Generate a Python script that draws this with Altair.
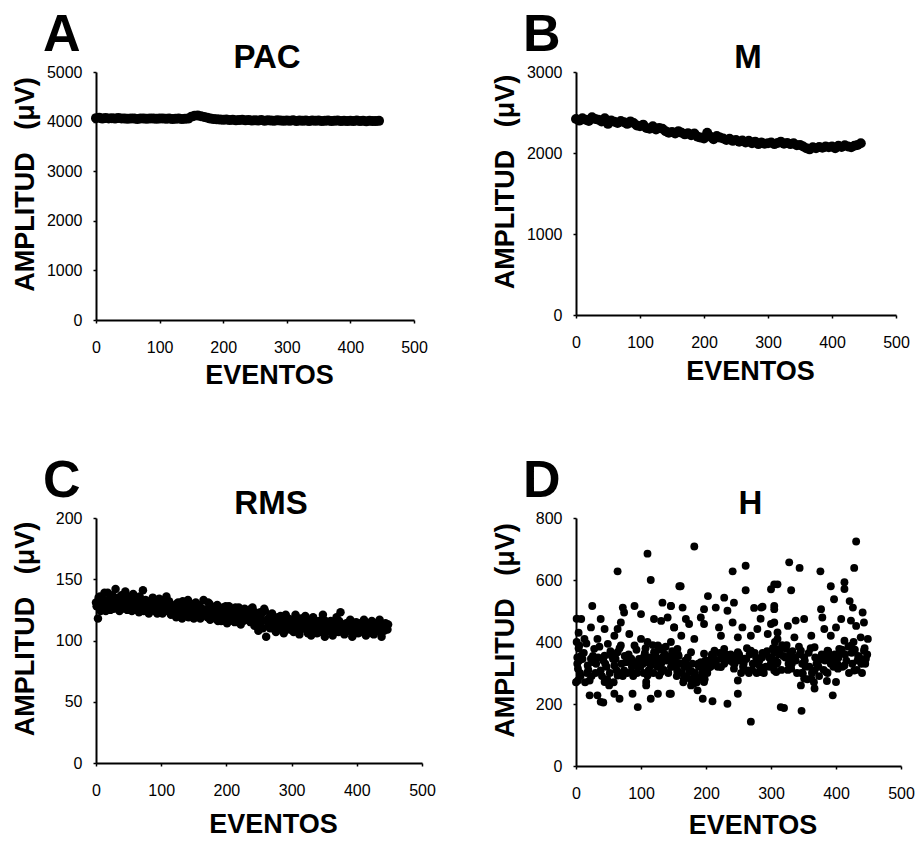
import altair as alt
import pandas as pd

# ---------------- data ----------------
# Panel A (PAC): events 0..445 step 5
A_events = list(range(0, 450, 5))
A_values = [4070, 4080, 4060, 4075, 4065, 4070, 4060, 4075, 4065, 4060,
            4055, 4065, 4060, 4050, 4065, 4060, 4055, 4065, 4060, 4055,
            4060, 4065, 4055, 4060, 4050, 4055, 4060, 4050, 4055, 4060,
            4100, 4120, 4125, 4110, 4095, 4080, 4060, 4050, 4045, 4040,
            4035, 4040, 4030, 4035, 4025, 4030, 4035, 4025, 4030, 4020,
            4025, 4020, 4030, 4015, 4025, 4020, 4015, 4025, 4020, 4015,
            4020, 4015, 4025, 4010, 4020, 4015, 4020, 4010, 4020, 4015,
            4020, 4010, 4015, 4020, 4010, 4015, 4020, 4010, 4015, 4010,
            4015, 4010, 4020, 4010, 4015, 4005, 4015, 4010, 4010, 4015]

# Panel B (M): events 0..445 step 5
B_events = list(range(0, 450, 5))
B_values = [2420, 2400, 2430, 2410, 2395, 2440, 2420, 2410, 2390, 2430,
            2360, 2400, 2385, 2370, 2395, 2380, 2360, 2390, 2370, 2340,
            2330, 2350, 2310, 2300, 2330, 2290, 2310, 2300, 2270, 2250,
            2260, 2240, 2270, 2250, 2230, 2245, 2220, 2240, 2200, 2190,
            2180, 2250, 2200, 2170, 2210, 2190, 2180, 2160, 2175, 2150,
            2160, 2140, 2155, 2130, 2150, 2120, 2140, 2110, 2130, 2115,
            2120, 2130, 2110, 2125, 2140, 2115, 2125, 2110, 2120, 2095,
            2100, 2080, 2060, 2045, 2070, 2060, 2075, 2065, 2080, 2070,
            2080, 2060, 2090, 2075, 2095, 2080, 2070, 2090, 2100, 2120]

# Panel C (RMS): events 0..447 step 3, plus 1..448 step 3
C_events = list(range(0, 450, 3))
C_values = [131, 118, 136, 127, 133, 124, 139, 129, 135, 126, 142, 130, 124, 137, 128, 140, 125, 133, 129, 138,
            127, 134, 123, 130, 141, 126, 132, 122, 129, 135, 124, 131, 127, 133, 122, 128, 136, 125, 130, 123,
            127, 119, 131, 124, 118, 129, 122, 133, 120, 126, 118, 131, 123, 128, 120, 133, 125, 119, 130, 122,
            126, 118, 129, 121, 116, 127, 123, 114, 128, 119, 125, 115, 122, 127, 113, 120, 126, 117, 123, 115,
            127, 112, 120, 108, 123, 116, 126, 103, 118, 110, 122, 113, 107, 119, 111, 116, 106, 121, 113, 109,
            117, 107, 121, 112, 105, 118, 110, 120, 108, 114, 104, 119, 111, 106, 116, 109, 121, 103, 113, 108,
            116, 104, 112, 119, 107, 123, 110, 105, 114, 108, 117, 103, 111, 115, 106, 113, 109, 117, 104, 112,
            108, 116, 105, 113, 110, 117, 103, 111, 114, 109]
C_events2 = list(range(1, 450, 3))
C_values2 = [128, 135, 124, 131, 139, 127, 133, 125, 137, 130, 127, 135, 132, 126, 134, 129, 136, 127, 124, 132,
             130, 125, 136, 128, 124, 133, 127, 131, 125, 132, 128, 122, 134, 126, 131, 124, 129, 132, 121, 128,
             123, 130, 126, 121, 132, 125, 128, 119, 130, 123, 127, 122, 129, 118, 126, 124, 121, 131, 117, 127,
             121, 128, 116, 125, 123, 119, 128, 121, 116, 124, 120, 127, 118, 122, 125, 116, 121, 124, 119, 126,
             116, 123, 118, 113, 121, 110, 124, 116, 112, 120, 115, 109, 118, 114, 120, 110, 117, 113, 118, 114,
             110, 115, 108, 118, 113, 110, 116, 112, 106, 117, 113, 109, 115, 111, 107, 114, 110, 116, 108, 113,
             109, 114, 107, 112, 116, 109, 113, 107, 111, 115, 109, 113, 106, 110, 114, 108, 112, 106, 114, 110,
             113, 106, 112, 108, 115, 107, 112, 108, 111, 113]

# Panel D (H): scattered events
D_events = [110, 64, 115, 159, 25, 72, 90, 74, 100, 133, 146, 120, 131, 141, 8, 38, 23, 44, 69, 64, 151, 13, 33, 59, 82, 100,
            5, 28, 49, 69, 90, 110, 126, 146, 8, 23, 44, 64, 85, 105, 120, 136, 151, 3, 18, 38, 59, 74, 95, 115, 131, 146,
            3, 21, 44, 64, 85, 110, 128, 156, 51, 108, 131, 21, 38, 33, 59, 67, 87, 95, 115, 126, 144, 108,
            182, 241, 261, 261, 161, 203, 228, 243, 146, 164, 197, 215, 233, 300, 310, 285, 305, 169, 192, 174, 197, 151,
            220, 241, 256, 279, 300, 162, 182, 223, 249, 269, 295, 310, 156, 177, 197, 213, 228, 249, 269, 290, 308,
            151, 172, 192, 208, 223, 238, 259, 279, 300, 156, 166, 182, 203, 223, 243, 264, 284, 305, 177, 187, 197, 249,
            146, 195, 210, 233, 249, 269, 315,
            431, 328, 344, 376, 428, 305, 331, 392, 413, 421, 426, 397, 305, 377, 441, 338, 351, 379, 408, 423, 443, 305,
            326, 382, 400, 431, 438, 449, 310, 336, 362, 392, 413, 305, 323, 346, 367, 387, 405, 423, 443, 310, 331, 351,
            372, 392, 413, 433, 446, 308, 331, 349, 367, 385, 403, 428, 346, 367, 400, 395, 351, 320, 347, 362,
            284, 287, 274, 413, 386, 42, 1, 1, 0, 2, 4, 6,
            5, 12, 17, 26, 31, 36, 42, 47, 53, 57, 62, 67, 77, 81, 86, 93, 97, 103, 107, 113, 118, 123, 127, 133, 138,
            143, 148, 153, 158, 163, 168, 174, 179, 184, 189, 194, 199, 205, 211, 216, 221, 226, 231, 236, 241, 246,
            252, 257, 262, 267, 272, 277, 282, 287, 292, 297, 303, 307, 312, 317, 322, 327, 333, 338, 343, 348, 353,
            358, 363, 368, 373, 378, 383, 388, 394, 398, 404, 409, 414, 419, 424, 429, 434, 439, 444,
            2, 4, 7, 10, 14, 16, 19, 24, 27, 30, 34, 40, 45, 48,
            52, 55, 58, 61, 66, 70, 72, 75, 79, 83, 88, 91, 94, 99,
            101, 104, 106, 109, 112, 116, 119, 122, 125, 129, 132, 135, 139, 142, 145, 149,
            152, 155, 157, 160, 165, 167, 170, 172, 176, 178, 181, 183, 186, 188, 191, 196, 198,
            202, 204, 207, 209, 213, 218, 224, 228, 233, 238, 244, 248,
            251, 254, 258, 263, 266, 271, 275, 278, 283, 286, 289, 294, 298,
            301, 304, 306, 309, 313, 316, 319, 324, 326, 329, 332, 336, 340, 344, 347,
            352, 356, 359, 361, 366, 370, 374, 377, 381, 384, 387, 391, 396, 399, 402, 406, 410, 416, 420, 425, 427,
            432, 436, 440, 445, 448]
D_values = [685, 628, 600, 580, 516, 511, 516, 495, 490, 527, 516, 474, 468, 479, 474, 474, 447, 442, 463, 442, 447, 410, 410, 420, 426, 410,
            389, 378, 394, 389, 389, 400, 389, 400, 356, 346, 356, 367, 346, 356, 367, 362, 356, 314, 324, 308, 324, 308, 319, 324, 330, 319,
            276, 276, 271, 292, 303, 292, 292, 308, 260, 271, 303, 228, 207, 228, 233, 217, 233, 190, 217, 233, 233, 260,
            708, 628, 646, 567, 580, 548, 543, 527, 516, 511, 506, 511, 501, 570, 586, 511, 506, 474, 479, 458, 458, 447,
            447, 463, 447, 442, 458, 420, 410, 420, 415, 420, 426, 431, 378, 367, 362, 372, 378, 367, 372, 362, 378,
            335, 324, 335, 346, 351, 340, 346, 330, 335, 303, 282, 292, 314, 319, 314, 308, 303, 308, 260, 244, 271, 276,
            233, 217, 209, 201, 233, 143, 190,
            724, 657, 639, 628, 639, 586, 567, 580, 593, 532, 511, 538, 516, 506, 495, 469, 474, 479, 474, 469, 463, 463,
            452, 442, 447, 452, 415, 410, 410, 415, 420, 420, 404, 367, 378, 372, 383, 372, 378, 388, 372, 335, 346, 351,
            335, 330, 324, 340, 346, 303, 314, 298, 308, 303, 314, 308, 260, 250, 271, 228, 282, 187, 178, 282,
            475, 514, 510, 571, 274, 205, 475, 400, 270, 350, 430, 300,
            340, 365, 300, 355, 330, 385, 340, 320, 370, 345, 310, 380, 335, 360, 320, 375, 345, 330, 380, 350, 390, 340, 375, 350, 385,
            340, 370, 320, 355, 300, 340, 310, 330, 280, 320, 300, 340, 330, 355, 340, 365, 345, 360, 350, 335, 355,
            340, 320, 345, 360, 330, 350, 340, 365, 320, 350, 380, 340, 360, 390, 350, 330, 370, 340, 385, 330, 320,
            365, 300, 350, 320, 360, 340, 370, 345, 360, 350, 375, 360, 385, 365, 375, 355, 330, 380,
            330, 380, 290, 345, 270, 395, 310, 290, 335, 300, 350, 290, 330, 280,
            300, 355, 270, 345, 300, 330, 290, 355, 300, 340, 290, 335, 300, 320,
            345, 300, 365, 335, 310, 345, 300, 360, 320, 345, 380, 310, 340, 300, 355, 330,
            340, 290, 360, 330, 270, 320, 290, 350, 280, 305, 265, 300, 270, 330, 285, 320, 280,
            300, 340, 320, 360, 330, 320, 355, 330, 340, 360, 330, 345,
            360, 300, 330, 380, 300, 310, 365, 300, 320, 350, 300, 370, 320,
            350, 320, 400, 330, 370, 310, 355, 390, 310, 360, 330, 350, 300, 360, 300,
            340, 280, 320, 380, 270, 330, 290, 345, 310, 360, 300, 350, 320, 345, 330, 365, 320, 340, 300, 330, 400,
            310, 350, 300, 330, 360]

# (letter, title, events, values, y max, y ticks, marker area, plot width, plot height, x-title offset)
panels = [
    ("A", "PAC", A_events, A_values, 5000, [0, 1000, 2000, 3000, 4000, 5000], 100, 318, 248, 63),
    ("B", "M", B_events, B_values, 3000, [0, 1000, 2000, 3000], 100, 320, 243, 64),
    ("C", "RMS", C_events + C_events2, C_values + C_values2, 200, [0, 50, 100, 150, 200], 72, 326, 245, 69),
    ("D", "H", D_events, D_values, 800, [0, 200, 400, 600, 800], 62, 325, 248, 67),
]
x_ticks = [0, 100, 200, 300, 400, 500]

FONT = "Liberation Sans"


def make_panel(letter, title, ev, vals, ymax, yticks, size, W, H, ty):
    df = pd.DataFrame({"EVENTOS": ev, "AMPLITUD": vals})
    pts = alt.Chart(df).mark_circle(size=size, color="black", opacity=1).encode(
        x=alt.X("EVENTOS:Q",
                scale=alt.Scale(domain=[0, 500], nice=False, zero=True),
                axis=alt.Axis(values=x_ticks, format="d", title="EVENTOS", titleX=W / 2 + 14, titleY=ty,
                              titleBaseline="alphabetic", titleAlign="center",
                              labelFlush=False, labelPadding=16)),
        y=alt.Y("AMPLITUD:Q",
                scale=alt.Scale(domain=[0, ymax], nice=False),
                axis=alt.Axis(values=yticks, format="d", title="AMPLITUD\u00a0\u00a0\u00a0(\u03bcV)",
                              titleAngle=270, titleX=-63, titleY=H / 2 - 12,
                              titleBaseline="alphabetic", titleAlign="center",
                              labelFlush=False, labelPadding=11)),
    )
    lab = alt.Chart(pd.DataFrame({"t": [letter]})).mark_text(
        fontSize=52, fontWeight="bold", font=FONT, align="left", baseline="alphabetic",
        color="black").encode(text="t:N", x=alt.value(-53), y=alt.value(-21))
    ttl = alt.Chart(pd.DataFrame({"t": [title]})).mark_text(
        fontSize=33, fontWeight="bold", font=FONT, align="center", baseline="alphabetic",
        color="black").encode(text="t:N", x=alt.value(W / 2 + 12), y=alt.value(-4))
    return alt.layer(pts, lab, ttl).properties(width=W, height=H)


charts = [make_panel(*p) for p in panels]

chart = alt.vconcat(
    alt.hconcat(charts[0], charts[1], spacing=62),
    alt.hconcat(charts[2], charts[3], spacing=54),
    spacing=67,
).configure_view(strokeWidth=0).configure_axis(
    domainColor="black", domainWidth=2, tickColor="black", tickSize=3, tickWidth=1.5,
    grid=False, labelFont=FONT, labelFontSize=16, labelColor="black",
    titleFont=FONT, titleFontSize=27, titleFontWeight="bold", titleColor="black",
).properties(padding={"left": 10, "top": 9, "right": 0, "bottom": 0})

chart.save("out.html", embed_options={"renderer": "svg", "actions": False})
